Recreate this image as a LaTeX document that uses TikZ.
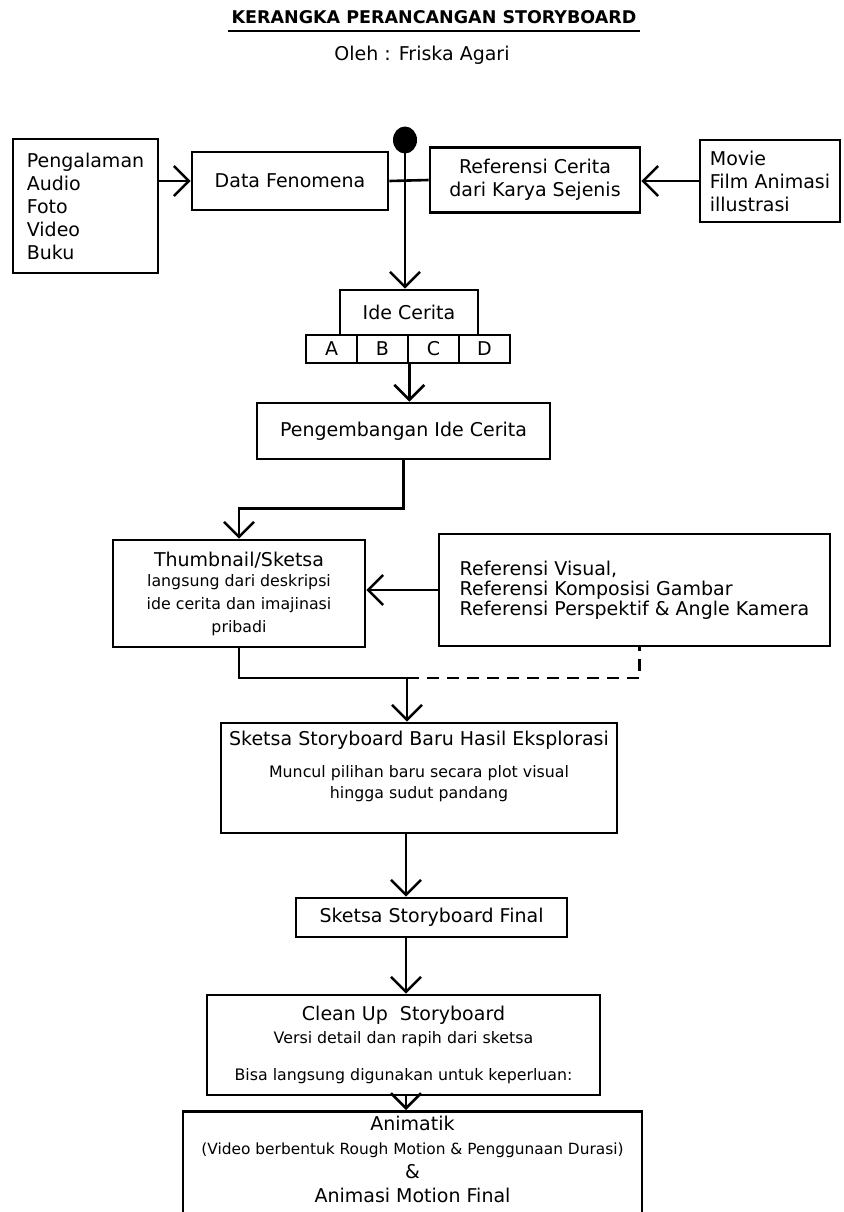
\documentclass[tikz,border=0pt]{standalone}
\usepackage{fontspec}
\setmainfont{DejaVu Sans}
\usetikzlibrary{arrows.meta, positioning, calc, shapes.geometric}

\newcommand{\bigtxt}{\fontsize{19}{23}\selectfont}
\newcommand{\subtxt}{\fontsize{15.8}{21}\selectfont}

\begin{document}
\begin{tikzpicture}[
  x=1pt, y=-1pt,
  box/.style={draw, line width=2.6pt, align=center, font=\bigtxt, inner sep=2pt},
  listbox/.style={box, align=left},
  cell/.style={box, minimum width=51pt, minimum height=28pt},
  dot/.style={ellipse, fill, minimum width=24pt, minimum height=27pt, inner sep=0pt},
  arr/.style={-{Straight Barb[length=15pt,width=30pt]}, line width=2.6pt},
  link/.style={line width=2.6pt}
]
\clip (0,0) rectangle (843,1212);

% judul
\node[anchor=base, font=\fontsize{17.5}{20}\selectfont\bfseries] (title) at (434,24) {KERANGKA PERANCANGAN STORYBOARD};
\draw[line width=2.2pt] ([yshift=-7pt]title.base west) -- ([yshift=-7pt]title.base east);
\node[font=\bigtxt] (author) at (422,55) {Oleh : Friska Agari};

% sumber ide
\node[dot] (dot) at (405,140) {};
\node[listbox, minimum width=145pt, minimum height=134pt] (src) at (85.5,206) {Pengalaman\\Audio\\Foto\\Video\\Buku};
\node[box, minimum width=196pt, minimum height=58pt] (data) at (290,181) {Data Fenomena};
\node[box, minimum width=210pt, minimum height=65pt] (refc) at (535,180) {Referensi Cerita\\dari Karya Sejenis};
\node[listbox, minimum width=140pt, minimum height=82pt] (movie) at (770,181) {Movie\\Film Animasi\\illustrasi};

% ide cerita
\node[box, minimum width=138pt, minimum height=45pt] (ide) at (409,312.5) {Ide Cerita};
\foreach \c [count=\i] in {A,B,C,D}
  \node[cell] (c\c) at ({306+51*\i-25.5},349) {\c};
\node[box, minimum width=293pt, minimum height=56pt] (devel) at (403.5,431) {Pengembangan Ide Cerita};

% sketsa
\node[box, minimum width=252pt, minimum height=107pt] (thumb) at (239,593.5) {Thumbnail/Sketsa\\[-3pt] \subtxt langsung dari deskripsi\\ \subtxt ide cerita dan imajinasi\\ \subtxt pribadi};
\node[listbox, minimum width=391pt, minimum height=112pt, font=\fontsize{19}{20}\selectfont] (refv) at (634.5,590) {Referensi Visual,\\Referensi Komposisi Gambar\\Referensi Perspektif \& Angle Kamera};
\node[box, inner xsep=8pt, inner ysep=8pt] (baru) at (419,778) {\parbox[c][94pt][t]{380pt}{\centering
  Sketsa Storyboard Baru Hasil Eksplorasi\par\vspace{11pt}
  \subtxt Muncul pilihan baru secara plot visual\\hingga sudut pandang\par}};
\node[box, minimum width=271pt, minimum height=39pt] (final) at (431.5,917.5) {Sketsa Storyboard Final};
\node[box, minimum width=393pt, minimum height=100pt] (clean) at (403.5,1045) {Clean Up\ \ Storyboard\\ \subtxt Versi detail dan rapih dari sketsa\\[14pt] \subtxt Bisa langsung digunakan untuk keperluan:};
\node[box, anchor=north, inner xsep=7pt, inner ysep=5pt] (anim) at (412.5,1110) {\parbox[c][115pt][t]{445pt}{\centering\fontsize{19}{24}\selectfont
  Animatik\\{\fontsize{15.4}{21}\selectfont (Video berbentuk Rough Motion \& Penggunaan Durasi)}\\\&\\Animasi Motion Final\par}};

% alur
\coordinate (spine) at (406,0);
\coordinate (merge) at (407,678);
\draw[arr] (src.east |- data.west) -- (data.west);
\draw[link] (data.east) -- (refc.west);
\draw[arr] (movie.west) -- (movie.west -| refc.east);
\draw[arr] (dot.center) -- (dot |- ide.north);
\draw[arr] (cB.south east) -- (cB.south east |- devel.north);
\draw[arr] (devel.south) -- ++(0,48) -| (thumb.north);
\draw[arr] (refv.west) -- (refv.west -| thumb.east);
\draw[link] (thumb.south) |- (merge);
\draw[link, dash pattern=on 12pt off 8pt] (merge) -| ([xshift=5pt]refv.south);
\draw[arr] (merge) -- (merge |- baru.north);
\draw[arr] (spine |- baru.south) -- (spine |- final.north);
\draw[arr] (spine |- final.south) -- (spine |- clean.north);
\draw[arr] (spine |- clean.south) -- (spine |- anim.north);

\end{tikzpicture}
\end{document}
